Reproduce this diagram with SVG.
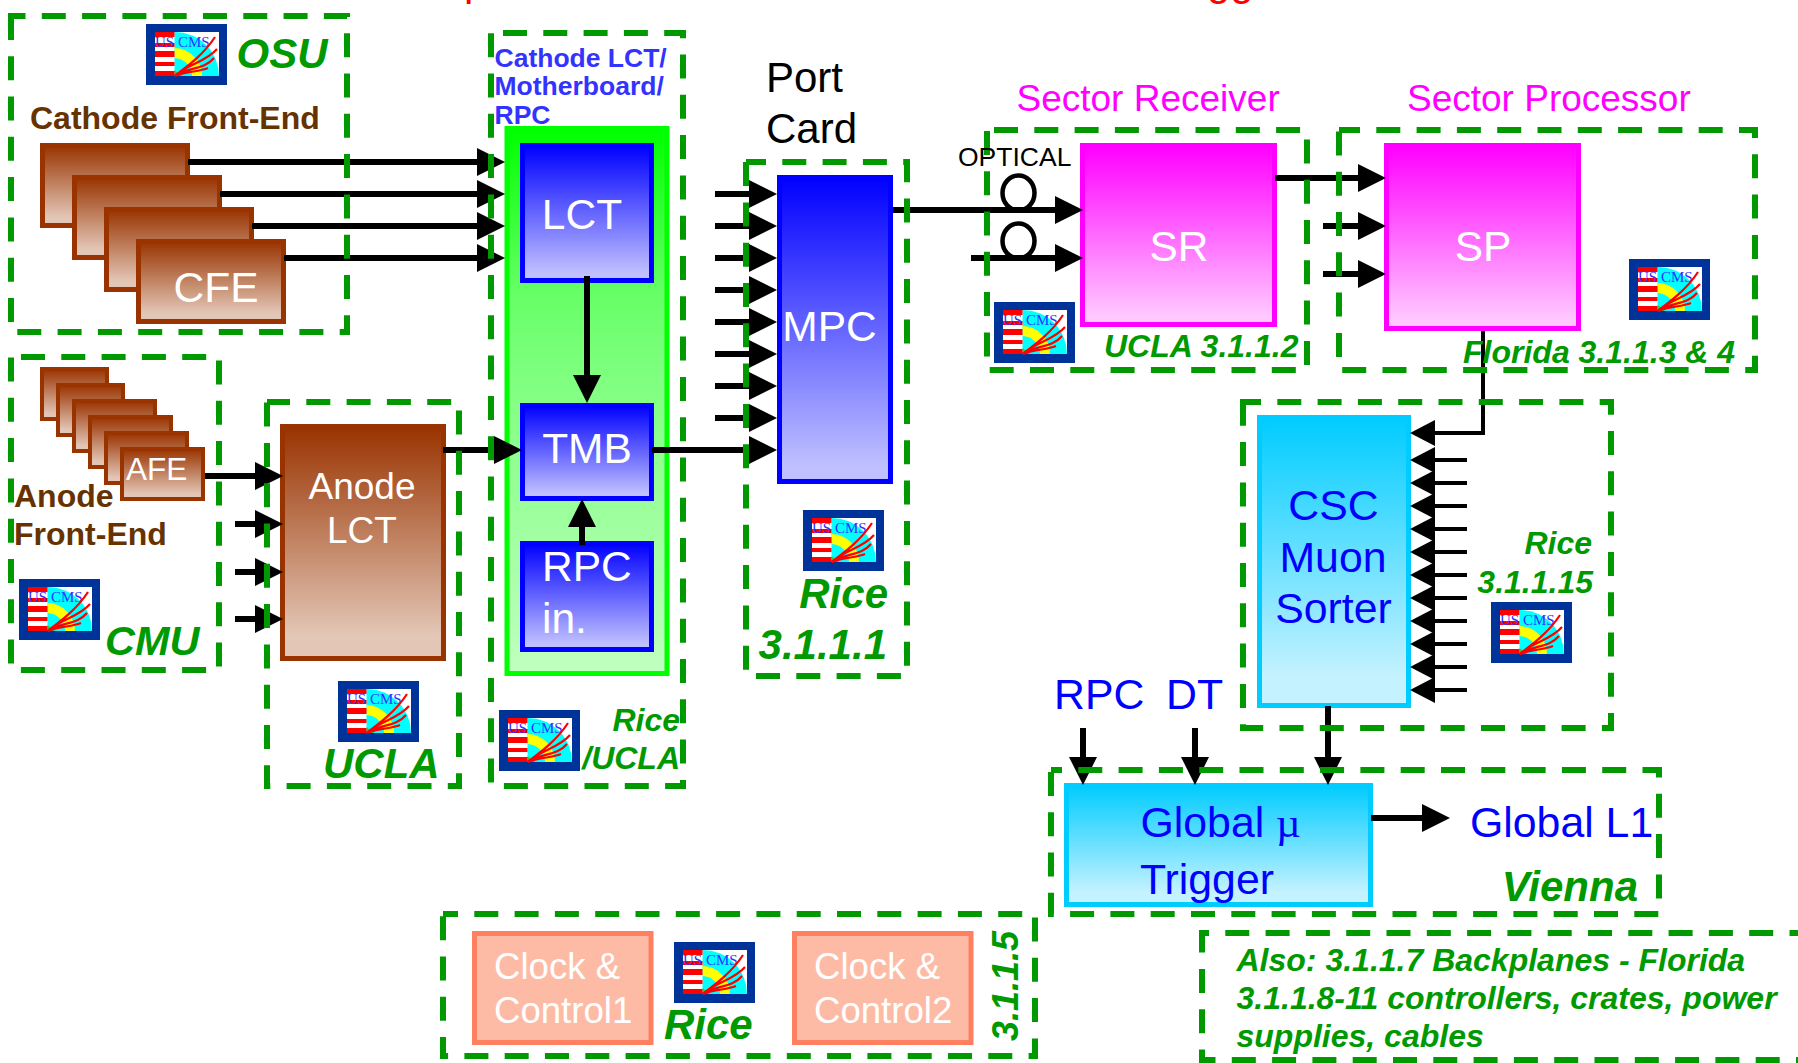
<svg xmlns="http://www.w3.org/2000/svg" width="1798" height="1063" viewBox="0 0 1798 1063">
<style>
text{font-family:"Liberation Sans",Arial,sans-serif}
.dash{fill:none;stroke:#009900;stroke-width:6;stroke-dasharray:24 16.3}
.lab{fill:#009900;font-weight:bold;font-style:italic}
.brown{fill:#663300;font-weight:bold;font-size:32px}
.w{fill:#fff;font-size:42.500px}
.blue{fill:#0000ff;font-size:42.800px}
.mag{fill:#ff00ff;font-size:37px}
.cf{fill:url(#gB);stroke:#993300;stroke-width:5}
.af{fill:url(#gB);stroke:#993300;stroke-width:4}
.bl{fill:url(#gL);stroke:#0000ff;stroke-width:5}
.mg{fill:url(#gM);stroke:#ff00ff;stroke-width:5}
.cy{fill:url(#gC);stroke:#00ccff;stroke-width:5}
.ck{fill:#fdbba6;stroke:#ff8060;stroke-width:5}
.ct{fill:#fff;font-size:36.600px}
.cb{fill:#3333ff;font-weight:bold;font-size:26.500px}
.c{fill:none;stroke:#000;stroke-width:6}
.a{marker-end:url(#ah)}
.s{stroke-width:4;marker-end:url(#as)}
.m{text-anchor:middle}
.e{text-anchor:end}
</style>
<defs>
<linearGradient id="gB" x1="0" y1="0" x2="0" y2="1"><stop offset="0" stop-color="#993300"/><stop offset="0.9" stop-color="#e3c6b6"/></linearGradient>
<linearGradient id="gL" x1="0" y1="0" x2="0" y2="1"><stop offset="0" stop-color="#0000ff"/><stop offset="0.95" stop-color="#c0c0ff"/></linearGradient>
<linearGradient id="gM" x1="0" y1="0" x2="0" y2="1"><stop offset="0" stop-color="#ff00ff"/><stop offset="0.95" stop-color="#ffc8ff"/></linearGradient>
<linearGradient id="gC" x1="0" y1="0" x2="0" y2="1"><stop offset="0" stop-color="#00ccff"/><stop offset="0.9" stop-color="#c4f2ff"/></linearGradient>
<linearGradient id="gG" x1="0" y1="0" x2="0" y2="1"><stop offset="0" stop-color="#00ff00"/><stop offset="0.3" stop-color="#66ff66"/><stop offset="0.46" stop-color="#80ff80"/><stop offset="0.87" stop-color="#b0ffb0"/><stop offset="1" stop-color="#c0ffc0"/></linearGradient>
<marker id="ah" markerUnits="userSpaceOnUse" markerWidth="28" markerHeight="30" viewBox="0 0 28 30" refX="18" refY="15" orient="auto"><path d="M0 1L28 15L0 29Z" fill="#000"/></marker>
<marker id="as" markerUnits="userSpaceOnUse" markerWidth="25" markerHeight="28" viewBox="0 0 25 28" refX="15" refY="14" orient="auto"><path d="M0 1L25 14L0 27Z" fill="#000"/></marker>
<g id="logo">
<rect width="81" height="61" fill="#003399"/>
<rect x="9" y="8" width="64" height="44" fill="#fff"/>
<path d="M28.5 8A44 44 0 0 1 73 52V52H28.5Z" fill="#00ffff"/>
<path d="M28.5 24A28 28 0 0 1 56 52H46A18 18 0 0 0 28.5 34Z" fill="#ffff00"/>
<path d="M28.5 52V46L36 52Z" fill="#33cc33"/>
<path d="M9 8H28.5V13H9ZM9 19H28.5V23H9ZM9 27H28.5V33H9ZM9 38H28.5V42H9ZM9 47H28.5V52H9Z" fill="#ff0000"/>
<text x="9" y="23" font-size="15" fill="#3333ff" style="font-family:'Liberation Serif',serif">US</text>
<text x="32" y="23" font-size="15" fill="#3333ff" style="font-family:'Liberation Serif',serif">CMS</text>
<path d="M28.5 52C42 42 58 30 69 13M28.5 52C42 40 60 38 71 25M28.5 52C42 43 58 46 68 34M29 52C42 47 52 48 62 44" fill="none" stroke="#ff0000" stroke-width="2.200"/>
</g>
</defs>
<rect width="1798" height="1063" fill="#fff"/>
<text x="464" y="-5.5" font-size="42" fill="#ff0000">p</text>
<text x="1207" y="-5.5" font-size="42" fill="#ff0000">gg</text>

<g id="cfe">
<rect class="cf" x="42.5" y="145.5" width="145" height="80"/>
<rect class="cf" x="74.5" y="177.5" width="145" height="80"/>
<rect class="cf" x="106.5" y="209.5" width="145" height="80"/>
<rect class="cf" x="138.5" y="241.5" width="145" height="80"/>
<text class="w m" x="216" y="302">CFE</text>
</g>
<g id="afe">
<rect class="af" x="42" y="369" width="65" height="50"/>
<rect class="af" x="58" y="385" width="65" height="50"/>
<rect class="af" x="74" y="401" width="81" height="50"/>
<rect class="af" x="90" y="417" width="81" height="50"/>
<rect class="af" x="106" y="433" width="81" height="50"/>
<rect class="af" x="122" y="449" width="81" height="50"/>
<text x="126" y="480" fill="#fff" font-size="31.500">AFE</text>
</g>
<g id="anode-lct">
<rect class="cf" x="282.5" y="426.5" width="161" height="232"/>
<text class="m" x="362" y="499" fill="#fff" font-size="37">Anode</text>
<text class="m" x="362" y="543" fill="#fff" font-size="37">LCT</text>
</g>
<g id="motherboard"><rect x="507" y="128.5" width="160" height="545" fill="url(#gG)" stroke="#00ff00" stroke-width="5"/></g>
<g id="lct"><rect class="bl" x="522.5" y="145.5" width="129" height="135"/><text class="w m" x="582" y="229">LCT</text></g>
<g id="tmb"><rect class="bl" x="522.5" y="405.5" width="129" height="93"/><text class="w m" x="587" y="463">TMB</text></g>
<g id="rpc-in"><rect class="bl" x="522.5" y="543.5" width="129" height="106"/><text class="w" x="542" y="581">RPC</text><text class="w" x="542" y="633">in.</text></g>
<g id="mpc"><rect class="bl" x="779.5" y="177.5" width="111" height="304"/><text class="w m" x="829.500" y="341">MPC</text></g>
<g id="sr"><rect class="mg" x="1082.5" y="145.5" width="192" height="179"/><text class="w m" x="1179" y="261">SR</text></g>
<g id="sp"><rect class="mg" x="1386.5" y="145.5" width="192" height="183"/><text class="w m" x="1483" y="261">SP</text></g>
<g id="sorter"><rect class="cy" x="1259.5" y="417.5" width="149" height="288"/>
<text class="blue m" x="1333.5" y="520">CSC</text><text class="blue m" x="1333" y="572">Muon</text><text class="blue m" x="1333.5" y="623">Sorter</text></g>
<g id="global-mu"><rect class="cy" x="1066.5" y="785.5" width="304" height="119"/>
<text class="blue" x="1140.500" y="837">Global <tspan style="font-family:'Liberation Serif',serif">µ</tspan></text><text class="blue" x="1140" y="894">Trigger</text></g>
<g id="clock1"><rect class="ck" x="474.5" y="933.5" width="176.500" height="109"/><text class="ct" x="494" y="979">Clock &amp;</text><text class="ct" x="494" y="1023">Control1</text></g>
<g id="clock2"><rect class="ck" x="794.5" y="933.5" width="176.500" height="109"/><text class="ct" x="814" y="979">Clock &amp;</text><text class="ct" x="814" y="1023">Control2</text></g>

<g id="connectors">
<path class="c a" d="M188 162H495"/><path class="c a" d="M220 194H495"/><path class="c a" d="M252 226H495"/><path class="c a" d="M284 258H495"/>
<path class="c a" d="M587 276V393"/>
<path class="c a" d="M582 545V509"/>
<path class="c a" d="M205 476H273"/><path class="c a" d="M235 524H273"/><path class="c a" d="M235 572H273"/><path class="c a" d="M235 619H273"/>
<path class="c a" d="M443 450H512"/>
<path class="c a" d="M715 194H767"/><path class="c a" d="M715 226H767"/><path class="c a" d="M715 258H767"/><path class="c a" d="M715 290H767"/><path class="c a" d="M715 322H767"/><path class="c a" d="M715 354H767"/><path class="c a" d="M715 386H767"/><path class="c a" d="M715 418H767"/>
<path class="c a" d="M652 450H767"/>
<path class="c a" d="M893 210H1073"/><path class="c a" d="M971 258H1073"/>
<ellipse cx="1018.500" cy="193" rx="16" ry="17.500" fill="none" stroke="#000" stroke-width="4.500"/>
<ellipse cx="1018.500" cy="241" rx="16" ry="17.500" fill="none" stroke="#000" stroke-width="4.500"/>
<path class="c a" d="M1275 178H1376"/><path class="c a" d="M1323 226H1376"/><path class="c a" d="M1323 274H1376"/>
<path class="c s" d="M1483 331V433H1420"/>
<path class="c s" d="M1467 460H1420"/><path class="c s" d="M1467 483H1420"/><path class="c s" d="M1467 506H1420"/><path class="c s" d="M1467 529H1420"/><path class="c s" d="M1467 552H1420"/><path class="c s" d="M1467 575H1420"/><path class="c s" d="M1467 598H1420"/><path class="c s" d="M1467 621H1420"/><path class="c s" d="M1467 644H1420"/><path class="c s" d="M1467 667H1420"/><path class="c s" d="M1467 690H1420"/>
<path class="c a" d="M1083 728V775"/><path class="c a" d="M1195 728V775"/><path class="c a" d="M1328 706V775"/>
<path class="c a" d="M1371 818H1440"/>
</g>

<g id="osu"><rect class="dash" x="11" y="16" width="336" height="316" stroke-dashoffset="9.500"/><use href="#logo" x="146" y="24"/><text class="lab" x="236.500" y="68" font-size="42">OSU</text><text class="brown" x="30" y="129">Cathode Front-End</text></g>
<g id="cmu"><rect class="dash" x="11" y="357" width="208" height="313" stroke-dashoffset="-10"/><use href="#logo" x="19" y="579"/><text class="lab" x="105" y="655" font-size="41.500">CMU</text><text class="brown" x="14" y="507">Anode</text><text class="brown" x="14" y="545">Front-End</text></g>
<g id="ucla"><rect class="dash" x="267" y="402" width="192" height="384" stroke-dashoffset="1"/><use href="#logo" x="338" y="681"/><text class="lab" x="323" y="778" font-size="42">UCLA</text></g>
<g id="rice-ucla"><rect class="dash" x="491" y="33" width="192" height="753" stroke-dashoffset="-12"/><use href="#logo" x="499" y="710"/><text class="lab e" x="680" y="731" font-size="32">Rice</text><text class="lab e" x="680" y="769" font-size="32">/UCLA</text>
<text class="cb" x="494.500" y="67">Cathode LCT/</text><text class="cb" x="494.500" y="95">Motherboard/</text><text class="cb" x="494.500" y="124">RPC</text></g>
<g id="port-card"><rect class="dash" x="746" y="162" width="161" height="514" stroke-dashoffset="4"/><use href="#logo" x="803" y="510"/><text class="lab e" x="888" y="608" font-size="42">Rice</text><text class="lab e" x="887" y="659" font-size="42">3.1.1.1</text><text x="766" y="92" font-size="42">Port</text><text x="766" y="143" font-size="42">Card</text></g>
<g id="sector-receiver"><rect class="dash" x="987" y="130" width="320" height="240" stroke-dashoffset="-7"/><use href="#logo" x="994" y="302"/><text class="lab" x="1104" y="357" font-size="32">UCLA 3.1.1.2</text><text class="mag" x="1016.500" y="111">Sector Receiver</text><text x="958" y="166" font-size="26.500">OPTICAL</text></g>
<g id="sector-processor"><rect class="dash" x="1339" y="130" width="416" height="240" stroke-dashoffset="3"/><use href="#logo" x="1629" y="259"/><text class="lab" x="1463" y="363" font-size="32">Florida 3.1.1.3 &amp; 4</text><text class="mag" x="1407" y="111">Sector Processor</text></g>
<g id="csc-sorter"><rect class="dash" x="1243" y="402" width="368" height="326" stroke-dashoffset="6"/><use href="#logo" x="1491" y="602"/><text class="lab e" x="1592" y="554" font-size="32">Rice</text><text class="lab e" x="1593" y="593" font-size="32">3.1.1.15</text><text class="blue" x="1054" y="709">RPC</text><text class="blue" x="1166" y="709">DT</text></g>
<g id="vienna"><rect class="dash" x="1051" y="770" width="608" height="144" stroke-dashoffset="13"/><text class="lab e" x="1638" y="901" font-size="42">Vienna</text><text class="blue" x="1470" y="837">Global L1</text></g>
<g id="clock-control"><rect class="dash" x="443" y="914" width="592" height="142" stroke-dashoffset="9"/><use href="#logo" x="674" y="942"/><text class="lab" x="664" y="1039" font-size="42">Rice</text><text class="lab" transform="translate(1018 1041) rotate(-90)" font-size="36">3.1.1.5</text></g>
<g id="also"><rect class="dash" x="1202" y="933" width="640" height="127" stroke-dashoffset="17"/><text class="lab" x="1236.500" y="971" font-size="32">Also: 3.1.1.7 Backplanes - Florida</text><text class="lab" x="1236.500" y="1009" font-size="32">3.1.1.8-11 controllers, crates, power</text><text class="lab" x="1236.500" y="1047" font-size="32">supplies, cables</text></g>
</svg>
